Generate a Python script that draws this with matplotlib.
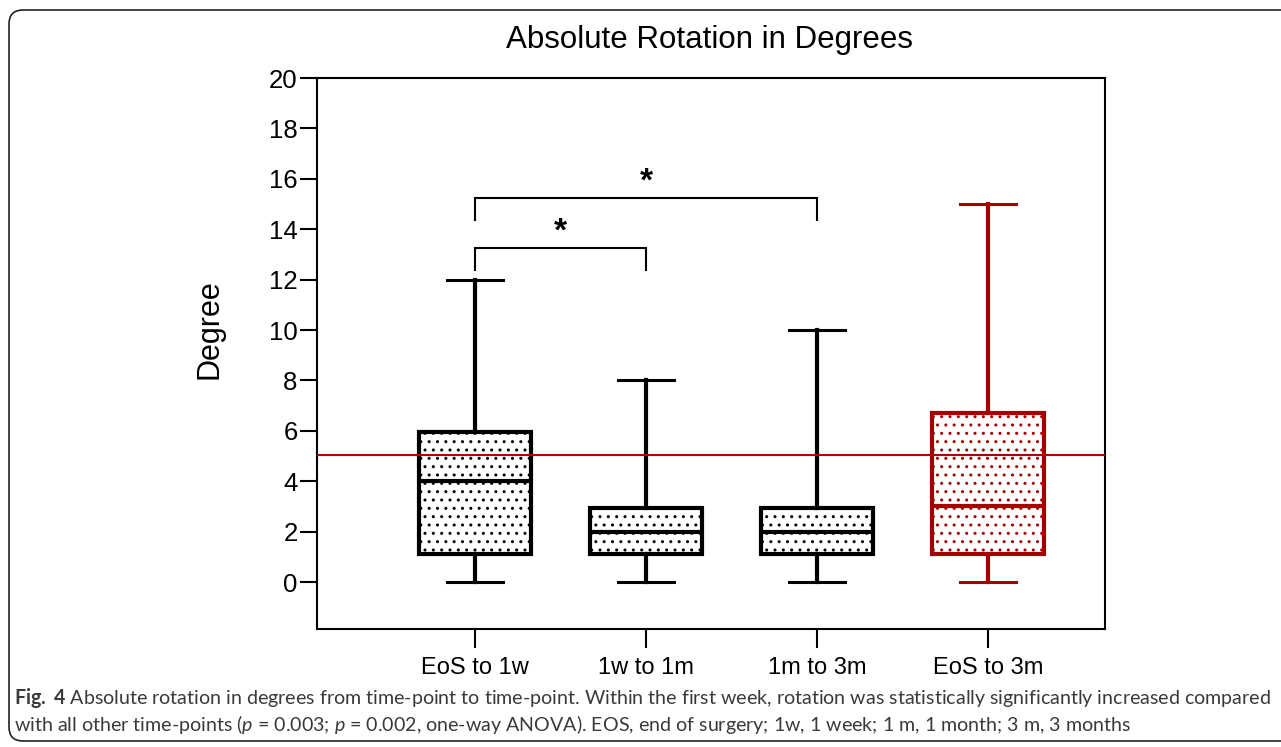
import matplotlib.pyplot as plt
import matplotlib.patches as mpatches

categories = ['EoS to 1w', '1w to 1m', '1m to 3m', 'EoS to 3m']
whislo = [0, 0, 0, 0]
q1 = [1.1, 1.1, 1.1, 1.1]
med = [4, 2, 2, 3]
q3 = [5.95, 2.95, 2.95, 6.7]
whishi = [12, 8, 10, 15]
colors = ['black', 'black', 'black', '#A50000']
ref_line = 5.05
# significance brackets: (from, to, height, drop)
brackets = [(0, 1, 13.25, 12.4), (0, 2, 15.25, 14.35)]

plt.rcParams['font.family'] = ['Liberation Sans', 'DejaVu Sans']
plt.rcParams['hatch.linewidth'] = 1.0
plt.rcParams['mathtext.fontset'] = 'custom'
plt.rcParams['mathtext.rm'] = 'Lato'
plt.rcParams['mathtext.it'] = 'Lato:italic'
plt.rcParams['mathtext.bf'] = 'Lato:bold'

fig = plt.figure(figsize=(12.81, 7.47), dpi=100)
ax = fig.add_axes([317 / 1281, 1 - 629 / 747, (1105 - 317) / 1281, (629 - 78) / 747])

stats = []
for i in range(len(categories)):
    stats.append({'whislo': whislo[i], 'q1': q1[i], 'med': med[i], 'q3': q3[i], 'whishi': whishi[i], 'fliers': []})

for i, s in enumerate(stats):
    c = colors[i]
    ax.bxp([s], positions=[i], widths=0.65, capwidths=0.33, patch_artist=True, showfliers=False,
           boxprops=dict(facecolor='white', edgecolor=c, linewidth=3, hatch='..'),
           medianprops=dict(color=c, linewidth=3),
           whiskerprops=dict(color=c, linewidth=3),
           capprops=dict(color=c, linewidth=2.2))

ax.axhline(ref_line, color='#B00000', linewidth=1.5, zorder=5)

for a, b, h, d in brackets:
    ax.plot([a, a, b, b], [d, h, h, d], color='black', linewidth=1.5, solid_joinstyle='miter')
    ax.text((a + b) / 2, h + 0.3, '*', ha='center', va='baseline', fontsize=24, fontweight='bold')

ax.set_xlim(-0.924, 3.684)
ax.set_ylim(-1.865, 20)
ax.set_yticks(range(0, 21, 2))
ax.set_xticks(range(len(categories)))
ax.set_xticklabels(categories)
ax.tick_params(axis='y', labelsize=18.5, length=12, width=1.5, pad=2)
ax.tick_params(axis='x', labelsize=17, length=14, width=1.5, pad=6)
for sp in ax.spines.values():
    sp.set_linewidth(1.5)
ax.set_ylabel('Degree', fontsize=22)
ax.yaxis.set_label_coords(-0.118, 0.545)
fig.text(710 / 1281, 1 - 40 / 747, 'Absolute Rotation in Degrees', ha='center', va='center', fontsize=22.5)

frame = mpatches.FancyBboxPatch((9, 6), 1300, 731, boxstyle='round,pad=0,rounding_size=14',
                                transform=None, facecolor='none', edgecolor='#222222', linewidth=1.2)
fig.add_artist(frame)

line1 = (r'$\mathbf{Fig.\ 4}$ Absolute rotation in degrees from time-point to time-point. '
         'Within the first week, rotation was statistically significantly increased compared')
line2 = (r'with all other time-points ($\mathit{p}$ = 0.003; $\mathit{p}$ = 0.002, one-way ANOVA). '
         'EOS, end of surgery; 1w, 1 week; 1 m, 1 month; 3 m, 3 months')
fig.text(14 / 1281, 1 - 698 / 747, line1, ha='left', va='center', fontsize=14.1, family='Lato', color='#3a3a3a')
fig.text(14 / 1281, 1 - 725 / 747, line2, ha='left', va='center', fontsize=14.1, family='Lato', color='#3a3a3a')

fig.savefig('out.png', dpi=100)
